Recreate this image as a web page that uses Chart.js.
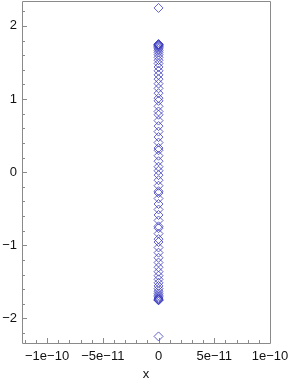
<!DOCTYPE html>
<html>
<head>
<meta charset="utf-8">
<script src="https://cdn.jsdelivr.net/npm/chart.js@4"></script>
<style>
  html, body { margin: 0; padding: 0; background: #fff; }
  #wrap { width: 290px; height: 382px; }
</style>
</head>
<body>
<div id="wrap"><canvas id="plot"></canvas></div>
<script>
// Point values (all at x = 0)
const yValues = [
    2.245,
    1.752, 1.748, 1.743, 1.737, 1.729, 1.718, 1.704, 1.686, 1.664, 1.638,
    1.606, 1.570, 1.530, 1.486, 1.438, 1.386, 1.330, 1.272, 1.210, 1.146,
    1.080, 1.012, 0.975, 0.900, 0.830, 0.785, 0.705, 0.630, 0.555, 0.480,
    0.405, 0.330, 0.300, 0.225, 0.150, 0.075, 0.020,
    -0.040, -0.110, -0.185, -0.260, -0.285, -0.360, -0.435, -0.510, -0.585,
    -0.660, -0.740, -0.765, -0.840, -0.915, -0.955, -1.030, -1.100, -1.170,
    -1.235, -1.300, -1.360, -1.415, -1.465, -1.512, -1.555, -1.593, -1.627,
    -1.657, -1.682, -1.703, -1.720, -1.733, -1.742, -1.748, -1.752,
    -2.245
];
const xValues = yValues.map(() => 0);

const xTicks = [-1e-10, -5e-11, 0, 5e-11, 1e-10];
const xTickLabels = ['\u22121e\u221210', '\u22125e\u221211', '0', '5e\u221211', '1e\u221210'];
const xMinorTicks = [-1.2e-10, -1.1e-10, -9e-11, -8e-11, -7e-11, -6e-11, -4e-11, -3e-11, -2e-11, -1e-11,
    1e-11, 2e-11, 3e-11, 4e-11, 6e-11, 7e-11, 8e-11, 9e-11];
const yTicks = [-2, -1, 0, 1, 2];
const yTickLabels = ['\u22122', '\u22121', '0', '1', '2'];
const yMinorTicks = [-2.2, -1.8, -1.6, -1.4, -1.2, -0.8, -0.6, -0.4, -0.2,
    0.2, 0.4, 0.6, 0.8, 1.2, 1.4, 1.6, 1.8, 2.2];

const axisColor = '#8a8a8a';
const pointColor = 'rgba(60, 60, 190, 0.8)';

// frame on top/right plus inward tick marks
const framePlugin = {
    id: 'frame',
    beforeDatasetsDraw(chart) {
        const ctx = chart.ctx;
        const a = chart.chartArea;
        const xs = chart.scales.x, ys = chart.scales.y;
        ctx.save();
        ctx.strokeStyle = axisColor;
        ctx.lineWidth = 1;
        ctx.beginPath();
        ctx.moveTo(a.left + 0.5, a.bottom + 0.5);
        ctx.lineTo(a.left + 0.5, a.top + 0.5);
        ctx.lineTo(a.right + 0.5, a.top + 0.5);
        ctx.lineTo(a.right + 0.5, a.bottom + 0.5);
        ctx.lineTo(a.left + 0.5, a.bottom + 0.5);
        ctx.stroke();
        ctx.beginPath();
        const drawX = (v, len) => {
            const px = Math.round(xs.getPixelForValue(v)) + 0.5;
            ctx.moveTo(px, a.bottom);
            ctx.lineTo(px, a.bottom - len);
        };
        const drawY = (v, len) => {
            const py = Math.round(ys.getPixelForValue(v)) + 0.5;
            ctx.moveTo(a.left, py);
            ctx.lineTo(a.left + len, py);
        };
        xTicks.forEach(v => drawX(v, 5));
        xMinorTicks.forEach(v => drawX(v, 3));
        yTicks.forEach(v => drawY(v, 5));
        yMinorTicks.forEach(v => drawY(v, 3));
        ctx.stroke();
        ctx.restore();
    }
};

const noPad = s => { s.paddingTop = 0; s.paddingBottom = 0; s.paddingLeft = 0; s.paddingRight = 0; };

const ctx = document.getElementById('plot').getContext('2d');
const chart = new Chart(ctx, {
    type: 'scatter',
    data: {
        datasets: [{
            data: xValues.map((x, i) => ({ x: x, y: yValues[i] })),
            pointStyle: 'rectRot',
            radius: 4.5,
            borderWidth: 1,
            borderColor: pointColor,
            backgroundColor: 'rgba(0,0,0,0)'
        }]
    },
    options: {
        responsive: true,
        maintainAspectRatio: false,
        animation: false,
        layout: { autoPadding: false, padding: { top: 1, right: 20, bottom: 0, left: 0 } },
        plugins: {
            legend: { display: false },
            tooltip: { enabled: false }
        },
        scales: {
            x: {
                type: 'linear',
                min: -1.225e-10,
                max: 1.0e-10,
                afterBuildTicks: s => { s.ticks = xTicks.map(v => ({ value: v })); },
                afterFit: s => { s.height = 39; noPad(s); },
                grid: { display: false, drawTicks: false },
                border: { display: false },
                ticks: {
                    padding: 6,
                    color: '#111',
                    font: { family: 'Liberation Sans', size: 13 },
                    maxRotation: 0,
                    autoSkip: false,
                    callback: (v) => xTickLabels[xTicks.indexOf(v)]
                },
                title: {
                    display: true,
                    text: 'x',
                    color: '#111',
                    font: { family: 'Liberation Sans', size: 13 },
                    padding: { top: 0, bottom: 0 }
                }
            },
            y: {
                type: 'linear',
                min: -2.335,
                max: 2.34,
                afterBuildTicks: s => { s.ticks = yTicks.map(v => ({ value: v })); },
                afterFit: s => { s.width = 22; noPad(s); },
                grid: { display: false, drawTicks: false },
                border: { display: false },
                ticks: {
                    padding: 5,
                    color: '#111',
                    font: { family: 'Liberation Sans', size: 13 },
                    autoSkip: false,
                    callback: (v) => yTickLabels[yTicks.indexOf(v)]
                }
            }
        }
    },
    plugins: [framePlugin]
});
</script>
</body>
</html>
